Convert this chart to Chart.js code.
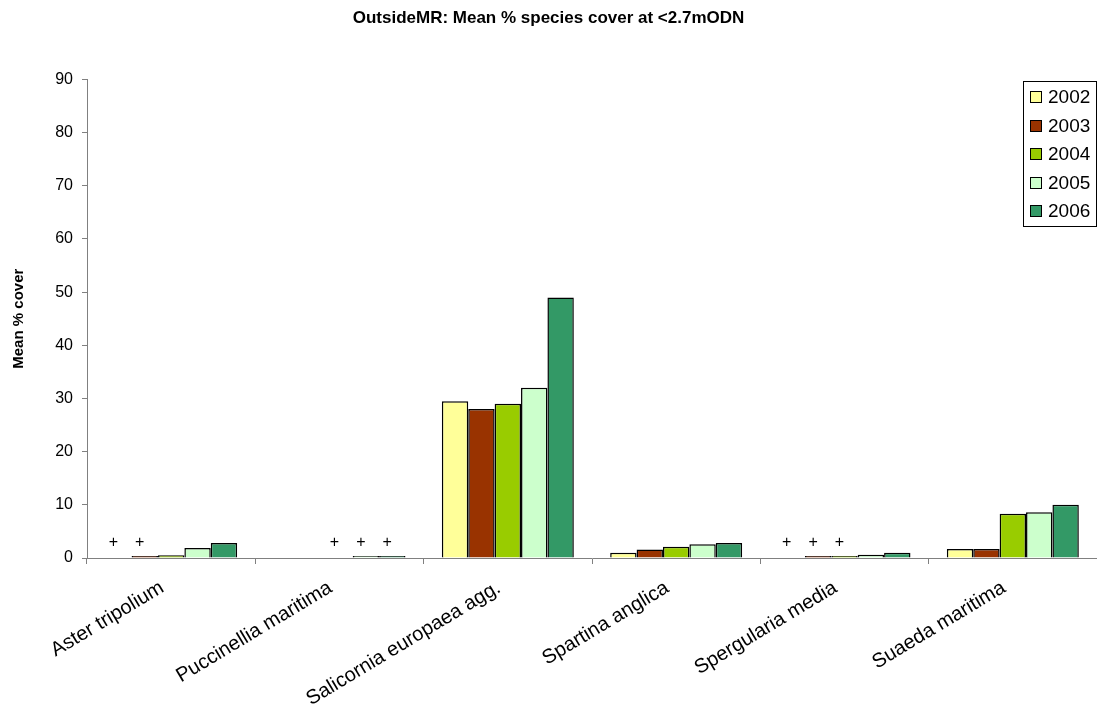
<!DOCTYPE html>
<html>
<head>
<meta charset="utf-8">
<script src="https://cdn.jsdelivr.net/npm/chart.js@4.4.1/dist/chart.umd.min.js"></script>
<style>
  html, body { margin: 0; padding: 0; background: #fff; overflow: hidden; }
  #wrap { width: 1097px; height: 713px; }
</style>
</head>
<body>
<div id="wrap"><canvas id="grafico"></canvas></div>
<script>
// datos
const especies = ["Aster tripolium", "Puccinellia maritima", "Salicornia europaea agg.",
                  "Spartina anglica", "Spergularia media", "Suaeda maritima"];
const anios = ["2002", "2003", "2004", "2005", "2006"];
const colores = ["#FFFF99", "#993300", "#99CC00", "#CCFFCC", "#339966"];

const cob2002 = [null, null, 29.5, 1.0, null, 1.7];
const cob2003 = [0.1, null, 28.0, 1.6, 0.05, 1.7];
const cob2004 = [0.5, null, 29.0, 2.1, 0.2, 8.3];
const cob2005 = [1.9, 0.1, 32.0, 2.6, 0.6, 8.6];
const cob2006 = [2.8, 0.1, 49.0, 2.8, 1.0, 10.0];

// "+" = especie presente (cobertura minima): [especie, anio]
const marcasPlus = [[0, 0], [0, 1], [1, 2], [1, 3], [1, 4], [4, 0], [4, 1], [4, 2]];

const ejeYMax = 90;
const ejeYPaso = 10;

const FUENTE = "'Liberation Sans', Arial, sans-serif";
Chart.defaults.font.family = FUENTE;
Chart.defaults.color = "#000";

const series = [cob2002, cob2003, cob2004, cob2005, cob2006];

// ======================================================
// Marcas "+" sobre las barras
// ======================================================
const pluginPlus = {
  id: "plus",
  afterDatasetsDraw(chart) {
    const ctx = chart.ctx;
    const y = chart.scales.y.getPixelForValue(2.9);
    ctx.save();
    ctx.font = "16px " + FUENTE;
    ctx.fillStyle = "#000";
    ctx.textAlign = "center";
    ctx.textBaseline = "middle";
    marcasPlus.forEach(([c, a]) => {
      const bar = chart.getDatasetMeta(a).data[c];
      ctx.fillText("+", bar.x - 5, y);
    });
    ctx.restore();
  }
};

// ======================================================
// Leyenda con recuadro (estilo Excel)
// ======================================================
const pluginLeyenda = {
  id: "leyendaCaja",
  afterDraw(chart) {
    const ctx = chart.ctx;
    const x0 = 1023.5, y0 = 81.5, w = 73, h = 145;
    ctx.save();
    ctx.fillStyle = "#fff";
    ctx.fillRect(x0, y0, w, h);
    ctx.strokeStyle = "#000";
    ctx.lineWidth = 1;
    ctx.strokeRect(x0, y0, w, h);
    ctx.font = "19px " + FUENTE;
    ctx.textBaseline = "middle";
    chart.data.datasets.forEach((ds, i) => {
      const cy = 97 + i * 28.5;
      ctx.fillStyle = ds.backgroundColor;
      ctx.fillRect(1030.5, Math.round(cy - 6) + 0.5, 11, 11);
      ctx.strokeRect(1030.5, Math.round(cy - 6) + 0.5, 11, 11);
      ctx.fillStyle = "#000";
      ctx.fillText(ds.label, 1048, cy + 1);
    });
    ctx.restore();
  }
};

new Chart(document.getElementById("grafico"), {
  type: "bar",
  data: {
    labels: especies,
    datasets: anios.map((a, i) => ({
      label: a,
      data: series[i],
      backgroundColor: colores[i],
      borderColor: "#000",
      borderWidth: 1.5,
      minBarLength: 2,
      categoryPercentage: 0.784,
      barPercentage: 1.0
    }))
  },
  options: {
    responsive: true,
    maintainAspectRatio: false,
    animation: false,
    layout: { padding: { left: 0, right: 0, top: 0, bottom: 0 } },
    plugins: {
      legend: { display: false },
      tooltip: { enabled: false },
      title: {
        display: true,
        text: "OutsideMR: Mean % species cover at <2.7mODN",
        font: { size: 17, weight: "bold" },
        color: "#000",
        padding: { top: 8, bottom: 51 }
      }
    },
    scales: {
      x: {
        grid: { display: true, drawOnChartArea: false, drawTicks: true, tickLength: 6, color: "#808080", offset: true },
        border: { display: true, color: "#808080" },
        ticks: { minRotation: 31, maxRotation: 31, padding: 12, labelOffset: -9, font: { size: 20 }, color: "#000" },
        afterFit(scale) { scale.height = 155; }
      },
      y: {
        min: 0,
        max: ejeYMax,
        ticks: { stepSize: ejeYPaso, padding: 9, font: { size: 16 }, color: "#000" },
        grid: { display: true, drawOnChartArea: false, drawTicks: true, tickLength: 5, color: "#808080" },
        border: { display: true, color: "#808080" },
        title: { display: true, text: "Mean % cover", font: { size: 15, weight: "bold" }, color: "#000", padding: { top: 10, bottom: 0 } },
        afterFit(scale) { scale.width = 87; }
      }
    }
  },
  plugins: [pluginPlus, pluginLeyenda]
});
</script>
</body>
</html>
